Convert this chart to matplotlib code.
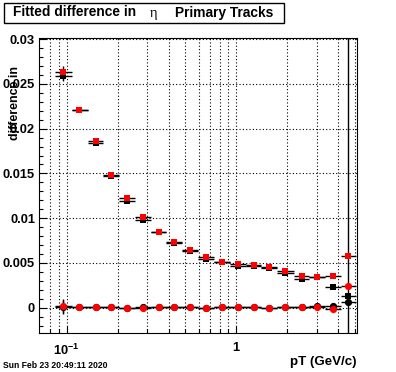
import matplotlib
matplotlib.use("Agg")
import matplotlib.pyplot as plt
from matplotlib.patches import Rectangle
from matplotlib.ticker import FixedLocator, NullFormatter, MultipleLocator

plt.rcParams['font.family'] = ['Liberation Sans', 'DejaVu Sans']
plt.rcParams['font.weight'] = 'bold'
plt.rcParams['mathtext.fontset'] = 'custom'
plt.rcParams['mathtext.bf'] = 'Liberation Sans:bold'
plt.rcParams['mathtext.rm'] = 'Liberation Sans:bold'

# bin edges and centres in pT (GeV/c)
pt_edges = [0.086, 0.107, 0.133, 0.165, 0.205, 0.253, 0.313, 0.388, 0.482, 0.596,
            0.741, 0.924, 1.14, 1.41, 1.75, 2.18, 2.70, 3.36, 4.15, 5.12]
pt = [0.0956, 0.1188, 0.1485, 0.1836, 0.228, 0.281, 0.349, 0.432, 0.537, 0.662,
      0.829, 1.03, 1.27, 1.57, 1.95, 2.43, 3.01, 3.74, 4.59]

# fitted differences
black_sq = [0.02584, 0.02206, 0.01837, 0.01468, 0.01190, 0.00981, 0.00847, 0.00720,
            0.00629, 0.00545, 0.00506, 0.00466, 0.00461, 0.00439, 0.00388, 0.00324,
            0.00338, 0.00235, 0.00131]
red_sq = [0.02629, 0.02211, 0.01868, 0.01488, 0.01225, 0.01018, 0.00850, 0.00732,
          0.00642, 0.00562, 0.00513, 0.00485, 0.00472, 0.00455, 0.00413, 0.00355,
          0.00346, 0.00358, 0.00582]
black_ci = [0.00008, 0.00004, 0.00003, 0.00004, 0.00002, 0.00004, 0.00003, 0.00004,
            0.00004, 0.00002, 0.00004, 0.00003, 0.00004, 0.00002, 0.00004, 0.00006,
            0.00022, 0.00022, 0.00064]
red_ci = [0.00016, 0.00004, 0.00004, 0.00004, 0.00000, 0.00002, 0.00004, 0.00004,
          0.00004, 0.00002, 0.00004, 0.00004, 0.00004, 0.00002, 0.00004, 0.00004,
          0.00004, -0.00018, 0.00243]

# errors
black_sq_err = [0.0005] + [0.0001] * 18
red_sq_err = [0.0007] + [0.0001] * 18
black_ci_err = [0.0008] + [0.0001] * 17 + [0.05]
red_ci_err = [0.0008] + [0.0001] * 18

y_ticks = [0, 0.005, 0.01, 0.015, 0.02, 0.025, 0.03]
y_labels = ['0', '0.005', '0.01', '0.015', '0.02', '0.025', '0.03']
x_major = [0.1, 1]
x_labels = [r'$\mathbf{10}^{\mathbf{-1}}$', '1']
x_minor = [0.08, 0.09, 0.2, 0.3, 0.4, 0.5, 0.6, 0.7, 0.8, 0.9, 2, 3, 4, 5]

xlo = [c - lo for c, lo in zip(pt, pt_edges[:-1])]
xhi = [hi - c for c, hi in zip(pt, pt_edges[1:])]

fig = plt.figure(figsize=(3.96, 3.72), dpi=100)
ax = fig.add_axes([0.0997, 0.104, 0.8006, 0.795])

series = [
    (black_sq, black_sq_err, 's', 'black', 4.9),
    (black_ci, black_ci_err, 'o', 'black', 5.2),
    (red_sq, red_sq_err, 's', 'red', 4.9),
    (red_ci, red_ci_err, 'o', 'red', 5.2),
]
for vals, errs, mk, col, ms in series:
    ax.errorbar(pt, vals, xerr=[xlo, xhi], yerr=errs, fmt=mk, color=col,
                ecolor='black', elinewidth=1.0, capsize=0, ms=ms, mew=0, zorder=3)

ax.set_xscale('log')
ax.set_xlim(0.0692, 5.13)
ax.set_ylim(-0.00286, 0.03018)

ax.xaxis.set_major_locator(FixedLocator(x_major))
ax.set_xticklabels(x_labels)
ax.xaxis.set_minor_locator(FixedLocator(x_minor))
ax.xaxis.set_minor_formatter(NullFormatter())
ax.set_yticks(y_ticks)
ax.set_yticklabels(y_labels)
ax.yaxis.set_minor_locator(MultipleLocator(0.001))

ax.tick_params(which='both', direction='in', top=False, right=False, width=0.8,
               labelsize=9.3)
ax.tick_params(which='major', length=5.4)
ax.tick_params(which='minor', length=2.9)
ax.tick_params(axis='y', pad=3.2)
ax.tick_params(axis='x', pad=6.5)

grid_style = dict(color='black', linestyle=(0, (1, 2)), linewidth=0.8)
ax.grid(True, which='major', axis='both', **grid_style)
ax.grid(True, which='minor', axis='x', **grid_style)
ax.set_axisbelow(True)
for sp in ax.spines.values():
    sp.set_linewidth(0.8)

W, H = 396.0, 372.0
fig.text(356 / W, 1 - 362 / H, 'pT (GeV/c)', ha='right', va='center',
         fontsize=9.6, fontweight='bold')
fig.text(15 / W, 1 - 66 / H, 'difference in', rotation=90, ha='center', va='top',
         fontsize=8.9, fontweight='bold')

# title box
fig.patches.append(Rectangle((3.5 / W, 1 - 22.5 / H), 280 / W, 20 / H,
                             transform=fig.transFigure, fill=False,
                             edgecolor='black', linewidth=1.0))
fig.text(12.7 / W, 1 - 12.5 / H, 'Fitted difference in', ha='left', va='center',
         fontsize=9.9, fontweight='bold')
fig.text(153.5 / W, 1 - 13.5 / H, '\u03b7', ha='center', va='center',
         fontsize=10.5, fontweight='normal', family=['Liberation Serif', 'DejaVu Serif'])
fig.text(175 / W, 1 - 12.5 / H, 'Primary Tracks', ha='left', va='center',
         fontsize=9.9, fontweight='bold')

fig.text(3 / W, 1 - 365 / H, 'Sun Feb 23 20:49:11 2020', ha='left', va='center',
         fontsize=6.2, fontweight='bold')

fig.savefig('out.png', dpi=100)
